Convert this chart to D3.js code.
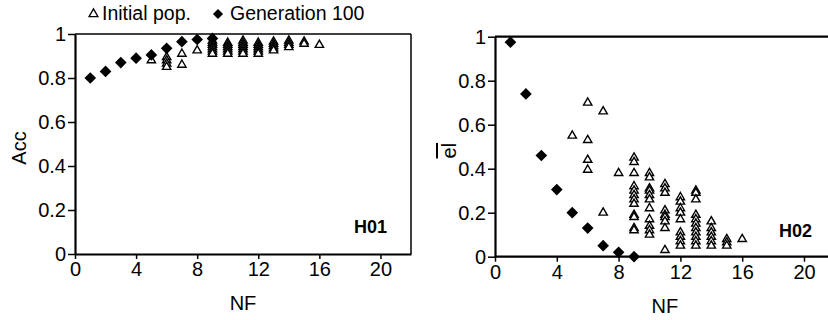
<!DOCTYPE html>
<html>
<head>
<meta charset="utf-8">
<script src="https://cdn.jsdelivr.net/npm/d3@7"></script>
<style>
  body { margin: 0; background: #fff; }
  svg { display: block; font-family: "Liberation Sans", Arial, sans-serif; }
</style>
</head>
<body>
<div class="charts"></div>
<script>
// Generation 100 (diamonds)
const genNF  = [1, 2, 3, 4, 5, 6, 7, 8, 9];
const genAcc = [0.80, 0.83, 0.87, 0.89, 0.905, 0.935, 0.965, 0.975, 0.98];
const genEl  = [0.975, 0.74, 0.46, 0.305, 0.20, 0.13, 0.05, 0.02, 0.0];

// Initial population (triangles), [NF, value]
const initAcc = [
  [5, 0.88],
  [6, 0.895], [6, 0.88], [6, 0.865], [6, 0.85],
  [7, 0.91], [7, 0.86],
  [8, 0.925],
  [9, 0.97], [9, 0.96], [9, 0.95], [9, 0.94], [9, 0.93], [9, 0.92], [9, 0.91],
  [10, 0.96], [10, 0.95], [10, 0.94], [10, 0.93], [10, 0.92], [10, 0.91],
  [11, 0.97], [11, 0.96], [11, 0.95], [11, 0.94], [11, 0.93], [11, 0.92], [11, 0.91],
  [12, 0.96], [12, 0.95], [12, 0.94], [12, 0.93], [12, 0.92], [12, 0.91],
  [13, 0.965], [13, 0.955], [13, 0.945], [13, 0.935], [13, 0.925],
  [14, 0.97], [14, 0.96], [14, 0.95], [14, 0.94],
  [15, 0.965], [15, 0.955],
  [16, 0.95]
];
const initEl = [
  [5, 0.55],
  [6, 0.70], [6, 0.53], [6, 0.44], [6, 0.395],
  [7, 0.66], [7, 0.20],
  [8, 0.38],
  [9, 0.45], [9, 0.43], [9, 0.38], [9, 0.32], [9, 0.30], [9, 0.28], [9, 0.26], [9, 0.24], [9, 0.19], [9, 0.18], [9, 0.13], [9, 0.12],
  [10, 0.38], [10, 0.36], [10, 0.31], [10, 0.30], [10, 0.28], [10, 0.26], [10, 0.22], [10, 0.17], [10, 0.14], [10, 0.12], [10, 0.10],
  [11, 0.33], [11, 0.31], [11, 0.29], [11, 0.21], [11, 0.19], [11, 0.18], [11, 0.16], [11, 0.13], [11, 0.03],
  [12, 0.27], [12, 0.25], [12, 0.22], [12, 0.20], [12, 0.17], [12, 0.11], [12, 0.09], [12, 0.07], [12, 0.05],
  [13, 0.30], [13, 0.29], [13, 0.26], [13, 0.19], [13, 0.17], [13, 0.15], [13, 0.13], [13, 0.11], [13, 0.09], [13, 0.07], [13, 0.05],
  [14, 0.16], [14, 0.13], [14, 0.11], [14, 0.09], [14, 0.07], [14, 0.05],
  [15, 0.08], [15, 0.065], [15, 0.05],
  [16, 0.08]
];

const xTicks = [0, 4, 8, 12, 16, 20];
const yTicks = [0, 0.2, 0.4, 0.6, 0.8, 1];
const legendLabels = ["Initial pop.", "Generation 100"];

const width = 828, height = 320;
const svg = d3.select("div.charts").append("svg")
  .attr("width", width)
  .attr("height", height);

const tri = d3.symbol().type(d3.symbolTriangle).size(30);
const dia = d3.symbol().type(d3.symbolSquare).size(68);

function drawPanel(opt) {
  const x = d3.scaleLinear().domain([0, 22]).range([opt.left, opt.right]);
  const y = d3.scaleLinear().domain([0, 1]).range([opt.bottom, opt.top]);
  const g = svg.append("g");

  // frame lines
  g.append("line")
    .attr("x1", x(0)).attr("x2", opt.frameRight)
    .attr("y1", y(1)).attr("y2", y(1))
    .attr("stroke", "#000").attr("stroke-width", opt.topWidth);
  if (opt.rightBorder) {
    g.append("line")
      .attr("x1", x(22)).attr("x2", x(22))
      .attr("y1", y(1)).attr("y2", y(0))
      .attr("stroke", "#000").attr("stroke-width", 1.5);
  }

  const xAxis = g.append("g")
    .attr("transform", "translate(0," + y(0) + ")")
    .call(d3.axisBottom(x).tickValues(xTicks).tickSize(5).tickSizeOuter(0).tickPadding(3));
  const yAxis = g.append("g")
    .attr("transform", "translate(" + x(0) + ",0)")
    .call(d3.axisLeft(y).tickValues(yTicks).tickSize(7).tickSizeOuter(0).tickPadding(2)
      .tickFormat(d => d));
  [xAxis, yAxis].forEach(a => {
    a.select(".domain").attr("stroke-width", 2.2);
    a.selectAll(".tick line").attr("stroke-width", 1.5);
    a.selectAll("text").attr("font-size", 20).attr("fill", "#000")
      .attr("font-family", "'Liberation Sans', Arial, sans-serif");
  });
  if (opt.extendX) {
    xAxis.select(".domain").attr("d", "M" + x(0) + ",0H" + width);
  }

  g.selectAll("path.init")
    .data(opt.init).enter()
    .append("path")
    .attr("class", "init")
    .attr("d", tri)
    .attr("transform", d => "translate(" + x(d[0]) + "," + y(d[1]) + ")")
    .attr("fill", "#fff")
    .attr("stroke", "#000")
    .attr("stroke-width", 1.4);

  g.selectAll("path.gen")
    .data(opt.genVals).enter()
    .append("path")
    .attr("class", "gen")
    .attr("d", dia)
    .attr("transform", (d, i) => "translate(" + x(genNF[i]) + "," + y(d) + ") rotate(45)")
    .attr("fill", "#000");

  g.append("text")
    .attr("x", (x(0) + x(22)) / 2)
    .attr("y", opt.bottom + 56)
    .attr("text-anchor", "middle")
    .attr("font-size", 20)
    .text("NF");

  g.append("text")
    .attr("transform", "translate(" + opt.yLabelX + "," + ((opt.top + opt.bottom) / 2 + 4) + ") rotate(-90)")
    .attr("text-anchor", "middle")
    .attr("font-size", 20)
    .attr("text-decoration", opt.overline ? "overline" : null)
    .text(opt.yLabel);

  g.append("text")
    .attr("x", opt.tagX)
    .attr("y", opt.tagY)
    .attr("text-anchor", "end")
    .attr("font-size", 18)
    .attr("font-weight", "bold")
    .text(opt.tag);
}

drawPanel({
  left: 75, right: 411, top: 34, bottom: 254,
  frameRight: 411, rightBorder: true, topWidth: 1.5,
  init: initAcc, genVals: genAcc,
  yLabel: "Acc", yLabelX: 26, tag: "H01", tagX: 387, tagY: 233
});

drawPanel({
  left: 495, right: 495 + 22 * 15.45, top: 36.7, bottom: 256.7,
  frameRight: width, rightBorder: false, topWidth: 2.2, extendX: true,
  init: initEl, genVals: genEl,
  yLabel: "el", yLabelX: 456, overline: true, tag: "H02", tagX: 812, tagY: 237
});

// legend
const legend = svg.append("g").attr("font-size", 19.5);
legend.append("path")
  .attr("d", d3.symbol().type(d3.symbolTriangle).size(34))
  .attr("transform", "translate(93.5,14)")
  .attr("fill", "#fff").attr("stroke", "#000").attr("stroke-width", 1.3);
legend.append("text").attr("x", 102).attr("y", 20).text(legendLabels[0]);
legend.append("path")
  .attr("d", d3.symbol().type(d3.symbolSquare).size(52))
  .attr("transform", "translate(218,14) rotate(45)")
  .attr("fill", "#000");
legend.append("text").attr("x", 230).attr("y", 20).text(legendLabels[1]);
</script>
</body>
</html>
